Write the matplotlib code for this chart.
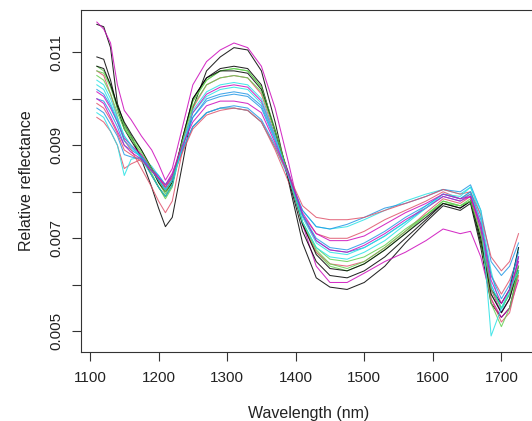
import matplotlib
matplotlib.use("Agg")
import matplotlib.pyplot as plt
import numpy as np

# Wavelength knots (nm)
wavelength = [1110, 1120, 1130, 1140, 1150, 1160, 1175, 1190, 1200, 1210,
              1220, 1235, 1250, 1270, 1290, 1310, 1330, 1350, 1370, 1390,
              1410, 1430, 1450, 1475, 1500, 1530, 1560, 1590, 1615, 1640,
              1655, 1670, 1685, 1700, 1712, 1725]

# Relative reflectance (x 1e-3)
s01 = [11.6, 11.55, 11.1, 9.9, 9.45, 9.2, 8.7, 8.1, 7.65, 7.25, 7.45, 8.6, 9.8, 10.6, 10.9, 11.1, 11.05, 10.6, 9.5, 8.2, 6.9, 6.15, 5.95, 5.9, 6.05, 6.4, 6.9, 7.35, 7.7, 7.6, 7.75, 6.8, 5.6, 5.3, 5.5, 6.3]
s02 = [9.6, 9.5, 9.3, 9.0, 8.5, 8.6, 8.7, 8.5, 8.3, 8.1, 8.3, 8.9, 9.4, 9.7, 9.8, 9.8, 9.75, 9.5, 8.9, 8.2, 7.5, 7.1, 7.0, 7.0, 7.15, 7.4, 7.6, 7.8, 8.0, 7.85, 7.95, 7.3, 6.2, 5.8, 6.1, 6.6]
s03 = [10.7, 10.6, 10.3, 9.85, 9.4, 9.15, 8.8, 8.4, 8.1, 7.85, 8.1, 9.1, 9.95, 10.4, 10.6, 10.65, 10.6, 10.25, 9.3, 8.3, 7.3, 6.7, 6.4, 6.3, 6.45, 6.75, 7.1, 7.5, 7.8, 7.7, 7.85, 6.9, 5.8, 5.4, 5.7, 6.3]
s04 = [10.0, 9.95, 9.7, 9.4, 9.0, 8.9, 8.75, 8.5, 8.3, 8.1, 8.3, 9.0, 9.6, 10.0, 10.1, 10.15, 10.1, 9.85, 9.15, 8.4, 7.5, 6.95, 6.75, 6.7, 6.8, 7.05, 7.35, 7.65, 7.9, 7.8, 7.95, 7.2, 6.0, 5.5, 5.8, 6.6]
s05 = [9.7, 9.6, 9.3, 9.0, 8.35, 8.7, 8.75, 8.55, 8.35, 8.15, 8.35, 8.9, 9.4, 9.7, 9.8, 9.8, 9.75, 9.5, 8.95, 8.3, 7.6, 7.25, 7.2, 7.25, 7.4, 7.6, 7.8, 7.95, 8.05, 7.95, 8.1, 7.5, 6.3, 5.4, 5.9, 6.8]
s06 = [11.65, 11.5, 11.2, 10.3, 9.75, 9.55, 9.2, 8.9, 8.6, 8.25, 8.5, 9.4, 10.3, 10.8, 11.05, 11.2, 11.1, 10.7, 9.8, 8.6, 7.3, 6.4, 6.05, 6.05, 6.25, 6.5, 6.7, 6.95, 7.2, 7.1, 7.15, 6.6, 5.7, 5.3, 5.5, 6.1]
s07 = [10.9, 10.85, 10.4, 9.8, 9.35, 9.1, 8.75, 8.35, 8.1, 7.9, 8.15, 9.15, 10.0, 10.45, 10.65, 10.7, 10.65, 10.3, 9.3, 8.25, 7.15, 6.5, 6.2, 6.15, 6.3, 6.6, 7.0, 7.4, 7.75, 7.65, 7.8, 6.9, 5.9, 5.6, 5.9, 6.8]
s08 = [10.6, 10.5, 10.1, 9.6, 9.1, 8.9, 8.5, 8.1, 7.8, 7.55, 7.8, 8.9, 9.8, 10.3, 10.45, 10.5, 10.45, 10.1, 9.2, 8.3, 7.3, 6.7, 6.45, 6.4, 6.5, 6.8, 7.15, 7.55, 7.85, 7.75, 7.9, 7.1, 5.7, 5.2, 5.4, 6.2]
s09 = [10.6, 10.55, 10.25, 9.8, 9.45, 9.2, 8.9, 8.5, 8.2, 7.95, 8.2, 9.15, 9.95, 10.4, 10.6, 10.65, 10.6, 10.25, 9.35, 8.35, 7.35, 6.75, 6.45, 6.35, 6.5, 6.8, 7.15, 7.5, 7.75, 7.7, 7.8, 7.0, 5.6, 5.1, 5.5, 6.3]
s10 = [9.8, 9.7, 9.45, 9.2, 8.8, 8.75, 8.7, 8.5, 8.35, 8.15, 8.35, 8.9, 9.4, 9.7, 9.8, 9.85, 9.8, 9.55, 9.0, 8.35, 7.6, 7.25, 7.2, 7.3, 7.45, 7.65, 7.75, 7.9, 8.05, 8.0, 8.15, 7.6, 6.5, 6.2, 6.4, 6.9]
s11 = [10.3, 10.2, 9.9, 9.55, 9.2, 9.0, 8.75, 8.45, 8.25, 8.05, 8.25, 9.0, 9.7, 10.05, 10.2, 10.25, 10.2, 9.9, 9.15, 8.35, 7.45, 6.9, 6.7, 6.65, 6.8, 7.05, 7.35, 7.7, 7.95, 7.85, 8.0, 7.3, 6.0, 5.5, 5.8, 6.5]
s12 = [10.15, 10.05, 9.8, 9.5, 9.15, 9.0, 8.8, 8.5, 8.3, 8.1, 8.35, 9.1, 9.7, 10.1, 10.25, 10.3, 10.25, 9.95, 9.2, 8.4, 7.5, 6.95, 6.75, 6.7, 6.85, 7.1, 7.4, 7.65, 7.9, 7.8, 7.9, 7.2, 5.9, 5.4, 5.7, 6.6]
s13 = [10.7, 10.65, 10.3, 9.85, 9.5, 9.25, 8.9, 8.5, 8.2, 8.0, 8.2, 9.15, 10.0, 10.45, 10.6, 10.6, 10.55, 10.2, 9.3, 8.35, 7.3, 6.65, 6.35, 6.3, 6.45, 6.75, 7.1, 7.45, 7.75, 7.65, 7.8, 7.0, 5.8, 5.4, 5.7, 6.4]
s14 = [9.9, 9.8, 9.55, 9.25, 8.9, 8.8, 8.65, 8.45, 8.3, 8.1, 8.3, 8.85, 9.35, 9.65, 9.75, 9.8, 9.75, 9.5, 8.95, 8.35, 7.7, 7.45, 7.4, 7.4, 7.45, 7.6, 7.75, 7.9, 8.05, 7.95, 8.0, 7.5, 6.6, 6.3, 6.5, 7.1]
s15 = [10.5, 10.4, 10.1, 9.7, 9.35, 9.15, 8.85, 8.5, 8.25, 8.0, 8.25, 9.1, 9.85, 10.3, 10.45, 10.5, 10.45, 10.15, 9.3, 8.35, 7.35, 6.8, 6.55, 6.5, 6.6, 6.85, 7.2, 7.5, 7.8, 7.7, 7.8, 7.1, 5.9, 5.5, 5.8, 6.4]
s16 = [10.2, 10.1, 9.85, 9.5, 9.1, 8.95, 8.75, 8.45, 8.25, 8.05, 8.25, 8.95, 9.6, 9.95, 10.05, 10.1, 10.05, 9.8, 9.1, 8.35, 7.5, 7.0, 6.8, 6.75, 6.9, 7.15, 7.45, 7.7, 7.95, 7.85, 8.0, 7.4, 6.2, 5.7, 6.0, 6.7]
s17 = [10.4, 10.3, 10.0, 9.6, 9.2, 9.0, 8.7, 8.35, 8.1, 7.9, 8.15, 9.0, 9.75, 10.15, 10.3, 10.35, 10.3, 10.0, 9.2, 8.3, 7.35, 6.8, 6.6, 6.55, 6.7, 6.95, 7.3, 7.65, 7.95, 7.9, 8.1, 7.6, 4.9, 5.5, 5.9, 6.3]
s18 = [10.0, 9.9, 9.6, 9.3, 9.0, 8.85, 8.7, 8.45, 8.3, 8.15, 8.4, 9.0, 9.5, 9.85, 9.95, 9.95, 9.9, 9.7, 9.05, 8.35, 7.55, 7.1, 6.95, 6.95, 7.05, 7.3, 7.55, 7.75, 7.95, 7.85, 7.9, 7.3, 6.1, 5.6, 5.9, 6.5]

spectra = [s01, s02, s03, s04, s05, s06, s07, s08, s09, s10,
           s11, s12, s13, s14, s15, s16, s17, s18]

# R matplot default colours 1:6 (R 4 palette)
palette = ["#000000", "#DF536B", "#61D04F", "#2297E6", "#28E2E5", "#CD0BBC"]

xticks = [1100, 1200, 1300, 1400, 1500, 1600, 1700]
yticks = [0.005, 0.006, 0.007, 0.008, 0.009, 0.010, 0.011]
ylabels = ["0.005", "", "0.007", "", "0.009", "", "0.011"]

plt.rcParams['font.family'] = ['Liberation Sans', 'DejaVu Sans']

fig = plt.figure(figsize=(5.32, 4.21), dpi=100)
ax = fig.add_axes([81 / 532, (421 - 352) / 421, (536 - 81) / 532, (352 - 9.5) / 421])

wl = np.array(wavelength)
for i, s in enumerate(spectra):
    ax.plot(wl, np.array(s) * 1e-3, color=palette[i % 6], lw=0.75, alpha=0.85)

ax.set_xlim(1086.9, 1750.5)
ax.set_ylim(0.004555, 0.01192)
ax.set_xticks(xticks)
ax.set_xticklabels([str(t) for t in xticks])
ax.set_yticks(yticks)
ax.set_yticklabels(ylabels, rotation=90, va='center')

for sp in ax.spines.values():
    sp.set_linewidth(0.8)
    sp.set_color("#333333")
ax.tick_params(axis='both', length=6.7, width=0.8, color="#333333",
               labelsize=11, labelcolor="#222222")
ax.tick_params(axis='x', pad=7)
ax.tick_params(axis='y', pad=6)

ax.set_xlabel("Wavelength (nm)", fontsize=11.5, color="#222222", labelpad=15)
ax.set_ylabel("Relative reflectance", fontsize=11.5, color="#222222", labelpad=11)

fig.savefig("out.png", dpi=100)
